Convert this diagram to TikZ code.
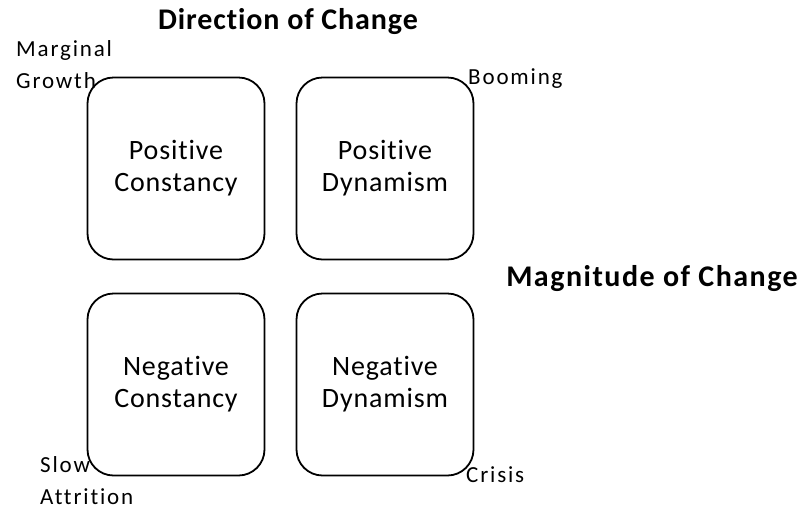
\documentclass[tikz,border=0pt]{standalone}
\usepackage{fontspec}
\setmainfont{Carlito}[Ligatures=NoCommon]
\begin{document}
\begin{tikzpicture}[x=1pt,y=-1pt,
  quad/.style={draw=black, line width=1.8pt, rounded corners=26pt, minimum width=177pt, minimum height=182pt, inner sep=0pt, align=center, font=\fontsize{28}{32}\selectfont\addfontfeature{LetterSpace=3}},
  corner/.style={inner sep=0pt, align=left, font=\fontsize{23}{33}\selectfont\addfontfeature{LetterSpace=8}},
  titleA/.style={inner sep=0pt, font=\bfseries\fontsize{30}{36}\selectfont\addfontfeature{LetterSpace=3}},
  titleB/.style={inner sep=0pt, font=\bfseries\fontsize{30}{36}\selectfont\addfontfeature{LetterSpace=5}}]
\useasboundingbox (0,0) rectangle (806,512);
\node[quad] (pc) at (176,168.5) {Positive\\Constancy};
\node[quad] (pd) at (385,168.5) {Positive\\Dynamism};
\node[quad] (nc) at (176,384.5) {Negative\\Constancy};
\node[quad] (nd) at (385,384.5) {Negative\\Dynamism};
\node[titleA] (dir) at (288,22) {Direction of Change};
\node[titleB] (mag) at (652,279) {Magnitude of Change};
\node[corner, anchor=west] (mg) at (16,50) {Marginal};
\node[corner, anchor=west] (gr) at (16,81) {Growth};
\node[corner, anchor=west] (bo) at (468,79) {Booming};
\node[corner, anchor=west] (sl) at (40,465) {Slow};
\node[corner, anchor=west] (at) at (40,497) {Attrition};
\node[corner, anchor=west] (cr) at (466,475) {Crisis};
\end{tikzpicture}
\end{document}
